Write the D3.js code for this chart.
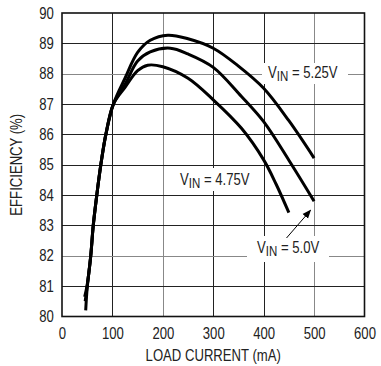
<!DOCTYPE html>
<html>
<head>
<meta charset="utf-8">
<script src="https://cdn.jsdelivr.net/npm/d3@7"></script>
<style>
	body { margin: 0; background: #fff; }
	svg { display: block; }
	text { font-family: 'Liberation Sans', Arial, sans-serif; fill: #222; }
</style>
</head>
<body>
<div id="chart"></div>
<script>
// load current (mA) and efficiency (%) for each input voltage
const current525 = [46, 50, 57, 62, 69, 77, 87, 102, 125, 150, 175, 210, 250, 300, 350, 400, 450, 500]
const eff525 = [80.5, 81, 82, 83, 84, 85, 86, 87, 87.85, 88.7, 89.1, 89.27, 89.15, 88.84, 88.25, 87.52, 86.45, 85.22]

const current500 = [47, 50, 57, 62, 69, 77, 87, 102, 125, 150, 175, 215, 250, 300, 356, 400, 450, 500]
const eff500 = [80.2, 80.95, 82, 83, 84, 85, 86, 87, 87.65, 88.42, 88.72, 88.84, 88.65, 88.21, 87.25, 86.42, 85.15, 83.8]

const current475 = [45, 50, 57, 62, 69, 77, 87, 102, 125, 150, 170, 200, 250, 300, 356, 400, 425, 450]
const eff475 = [80.65, 81.05, 82, 83, 84, 85, 86, 87, 87.55, 88.1, 88.28, 88.23, 87.85, 87.14, 86.2, 85.16, 84.35, 83.42]

const xTicks = [0, 100, 200, 300, 400, 500, 600]
const yTicks = [80, 81, 82, 83, 84, 85, 86, 87, 88, 89, 90]

const width = 381,
	height = 366
const narrow = 0.82 // squeeze to look like a narrow face

const x = d3.scaleLinear().domain([0, 600]).range([62, 364.5])
const y = d3.scaleLinear().domain([80, 90]).range([316.5, 13])

const svg = d3
	.select('#chart')
	.append('svg')
	.attr('width', width)
	.attr('height', height)

// grid
svg.append('g')
	.selectAll('line')
	.data(xTicks.slice(1, -1))
	.enter()
	.append('line')
	.attr('x1', d => Math.round(x(d)) + 0.5)
	.attr('x2', d => Math.round(x(d)) + 0.5)
	.attr('y1', y(90))
	.attr('y2', y(80))
	.attr('stroke', d => (d === 200 || d === 500 ? '#888' : '#222'))

svg.append('g')
	.selectAll('line')
	.data(yTicks.slice(1, -1))
	.enter()
	.append('line')
	.attr('y1', d => Math.round(y(d)) + 0.5)
	.attr('y2', d => Math.round(y(d)) + 0.5)
	.attr('x1', x(0))
	.attr('x2', x(600))
	.attr('stroke', d => (d === 88 || d === 82 ? '#888' : '#222'))

svg.append('rect')
	.attr('x', x(0))
	.attr('y', y(90))
	.attr('width', x(600) - x(0))
	.attr('height', y(80) - y(90))
	.attr('fill', 'none')
	.attr('stroke', '#111')
	.attr('stroke-width', 1.6)

// axes (labels only)
const xAxis = svg
	.append('g')
	.attr('transform', `translate(0,${y(80)})`)
	.call(d3.axisBottom(x).tickValues(xTicks).tickSize(0).tickPadding(11))
xAxis.select('.domain').remove()
xAxis.selectAll('text')
	.attr('font-size', 16)
	.attr('transform', `scale(${narrow},1)`)
	.style('font-family', null)

const yAxis = svg
	.append('g')
	.attr('transform', `translate(${x(0)},0)`)
	.call(d3.axisLeft(y).tickValues(yTicks).tickSize(0).tickPadding(10))
yAxis.select('.domain').remove()
yAxis.selectAll('text')
	.attr('font-size', 16)
	.attr('transform', `scale(${narrow},1)`)
	.style('font-family', null)

svg.append('text')
	.attr('transform', `translate(${(x(0) + x(600)) / 2},361) scale(${narrow},1)`)
	.attr('text-anchor', 'middle')
	.attr('font-size', 16)
	.text('LOAD CURRENT (mA)')

svg.append('text')
	.attr('transform', `translate(22,${(y(80) + y(90)) / 2}) rotate(-90) scale(${narrow},1)`)
	.attr('text-anchor', 'middle')
	.attr('font-size', 16)
	.text('EFFICIENCY (%)')

// labels with white backing
function vinLabel(px, py, value, box) {
	svg.append('rect')
		.attr('x', box[0])
		.attr('y', box[1])
		.attr('width', box[2])
		.attr('height', box[3])
		.attr('fill', '#fff')
	const t = svg
		.append('text')
		.attr('transform', `translate(${px},${py}) scale(${narrow},1)`)
		.attr('font-size', 16)
	t.append('tspan').text('V')
	t.append('tspan').attr('font-size', 14).attr('dy', 3).text('IN')
	t.append('tspan').attr('dy', -3).text(' = ' + value)
}

vinLabel(268, 78, '5.25V', [262, 63, 86, 21])
vinLabel(180, 185, '4.75V', [177, 168, 81, 23])
vinLabel(257, 253, '5.0V', [247, 236, 82, 26])

// curves
const line = d3
	.line()
	.x(d => x(d[0]))
	.y(d => y(d[1]))
	.curve(d3.curveCatmullRom.alpha(0.5))

const series = [
	d3.zip(current525, eff525),
	d3.zip(current500, eff500),
	d3.zip(current475, eff475)
]

svg.append('g')
	.selectAll('path')
	.data(series)
	.enter()
	.append('path')
	.attr('d', line)
	.attr('fill', 'none')
	.attr('stroke', '#000')
	.attr('stroke-width', 3)

// arrow to the 5.0V curve
svg.append('defs')
	.append('marker')
	.attr('id', 'head')
	.attr('viewBox', '0 0 10 10')
	.attr('refX', 9)
	.attr('refY', 5)
	.attr('markerWidth', 9)
	.attr('markerHeight', 9)
	.attr('markerUnits', 'userSpaceOnUse')
	.attr('orient', 'auto')
	.append('path')
	.attr('d', 'M0,1 L10,5 L0,9 Z')
	.attr('fill', '#000')

svg.append('line')
	.attr('x1', 286.5)
	.attr('y1', 238)
	.attr('x2', x(493))
	.attr('y2', y(83.5))
	.attr('stroke', '#000')
	.attr('stroke-width', 1)
	.attr('marker-end', 'url(#head)')
</script>
</body>
</html>
